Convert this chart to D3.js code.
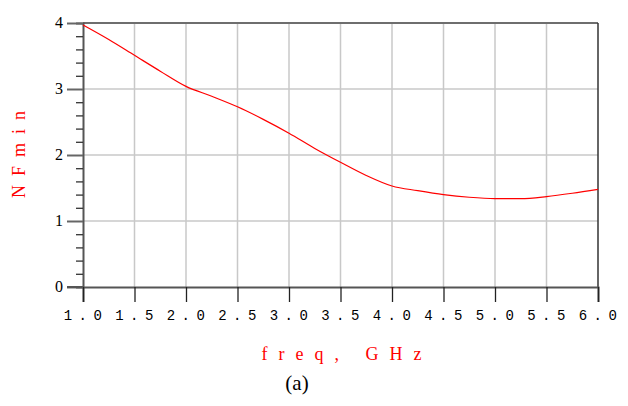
<!DOCTYPE html>
<html>
<head>
<meta charset="utf-8">
<script src="https://cdn.jsdelivr.net/npm/d3@7"></script>
<style>
  body { margin: 0; background: #fff; }
  svg { display: block; }
</style>
</head>
<body>
<div id="chart"></div>
<script>
// values
const freqs = [1.0, 1.25, 1.5, 1.75, 2.0, 2.25, 2.5, 2.75, 3.0, 3.25, 3.5, 3.75, 4.0, 4.25, 4.5, 4.75, 5.0, 5.25, 5.5, 5.75, 6.0];
const nfmin = [3.97, 3.75, 3.51, 3.27, 3.04, 2.89, 2.73, 2.54, 2.33, 2.10, 1.89, 1.69, 1.53, 1.46, 1.40, 1.36, 1.34, 1.34, 1.37, 1.42, 1.48];
const xTicks = [1.0, 1.5, 2.0, 2.5, 3.0, 3.5, 4.0, 4.5, 5.0, 5.5, 6.0];
const yTicks = [0, 1, 2, 3, 4];
const yMinor = d3.range(0, 4.01, 0.2);

const W = 628, H = 406;
const mLeft = 83, mRight = 598, mTop = 23, mBottom = 287;

const svg = d3.select('#chart').append('svg')
    .attr('width', W)
    .attr('height', H);

const x = d3.scaleLinear().domain([1, 6]).range([mLeft, mRight]);
const y = d3.scaleLinear().domain([0, 4]).range([mBottom, mTop]);

// grid
svg.append('g').selectAll('line')
    .data(xTicks.slice(1, -1))
    .enter().append('line')
    .attr('x1', d => x(d)).attr('x2', d => x(d))
    .attr('y1', mTop).attr('y2', mBottom)
    .attr('stroke', '#c8c8c8').attr('stroke-width', 1.5);
svg.append('g').selectAll('line')
    .data(yTicks.slice(1, -1))
    .enter().append('line')
    .attr('x1', mLeft).attr('x2', mRight)
    .attr('y1', d => y(d)).attr('y2', d => y(d))
    .attr('stroke', '#c8c8c8').attr('stroke-width', 1.5);

// frame
svg.append('line').attr('x1', mLeft).attr('x2', mRight).attr('y1', mTop).attr('y2', mTop)
    .attr('stroke', '#6e6e6e').attr('stroke-width', 2);
svg.append('line').attr('x1', mRight).attr('x2', mRight).attr('y1', mTop).attr('y2', mBottom)
    .attr('stroke', '#333').attr('stroke-width', 1.5);

// y axis
const yAxis = svg.append('g')
    .attr('transform', 'translate(' + mLeft + ',0)')
    .call(d3.axisLeft(y).tickValues(yMinor).tickSize(7).tickFormat(''));
yAxis.select('.domain').attr('stroke', '#555').attr('stroke-width', 2);
yAxis.selectAll('.tick line').attr('stroke', '#333').attr('stroke-width', 1.3);
yAxis.selectAll('.tick')
    .filter(d => Math.abs(d - Math.round(d)) < 1e-6)
    .select('line').attr('x2', -16).attr('stroke', '#666').attr('stroke-width', 2);

svg.append('g').selectAll('text')
    .data(yTicks)
    .enter().append('text')
    .attr('x', 63)
    .attr('y', d => y(d) + 5)
    .attr('text-anchor', 'end')
    .attr('font-family', 'Liberation Serif, serif')
    .attr('font-size', 16)
    .attr('fill', '#000')
    .text(d => d);

// x axis
const xAxis = svg.append('g')
    .attr('transform', 'translate(0,' + mBottom + ')')
    .call(d3.axisBottom(x).tickValues(xTicks).tickSize(15).tickFormat(''));
xAxis.select('.domain').attr('stroke', '#555').attr('stroke-width', 2);
xAxis.selectAll('.tick line').attr('stroke', '#222').attr('stroke-width', 1.3);
svg.append('line').attr('x1', 67).attr('x2', mLeft).attr('y1', mBottom).attr('y2', mBottom)
    .attr('stroke', '#555').attr('stroke-width', 2);

svg.append('g').selectAll('text')
    .data(xTicks)
    .enter().append('text')
    .attr('x', d => x(d) + 3)
    .attr('y', 320)
    .attr('text-anchor', 'middle')
    .attr('font-family', 'Liberation Mono, monospace')
    .attr('font-size', 14)
    .attr('letter-spacing', 6.5)
    .attr('fill', '#000')
    .text(d => d.toFixed(1));

// curve
const line = d3.line()
    .x((d, i) => x(freqs[i]))
    .y(d => y(d))
    .curve(d3.curveMonotoneX);
svg.append('path')
    .datum(nfmin)
    .attr('fill', 'none')
    .attr('stroke', '#ff0000')
    .attr('stroke-width', 1.2)
    .attr('d', line);

// axis titles
svg.append('text')
    .attr('transform', 'translate(25,150) rotate(-90)')
    .attr('text-anchor', 'middle')
    .attr('font-family', 'Liberation Serif, serif')
    .attr('font-size', 18)
    .attr('letter-spacing', 9)
    .attr('fill', '#ff0000')
    .text('NFmin');

svg.append('text')
    .attr('x', 347)
    .attr('y', 360)
    .attr('text-anchor', 'middle')
    .attr('font-family', 'Liberation Serif, serif')
    .attr('font-size', 18)
    .attr('letter-spacing', 11)
    .attr('fill', '#ff0000')
    .text('freq, GHz');

svg.append('text')
    .attr('x', 297)
    .attr('y', 390)
    .attr('text-anchor', 'middle')
    .attr('font-family', 'Liberation Serif, serif')
    .attr('font-size', 21)
    .attr('fill', '#000')
    .text('(a)');
</script>
</body>
</html>
